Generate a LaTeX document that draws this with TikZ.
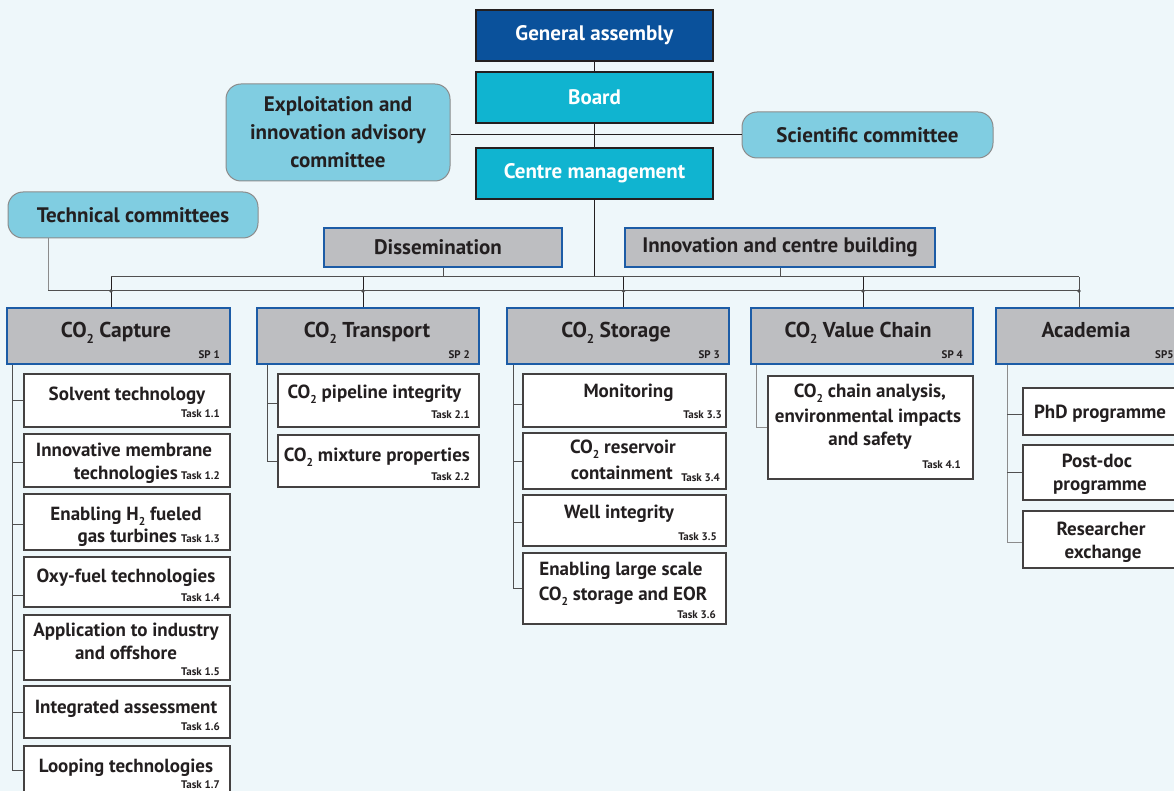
\documentclass[tikz,border=0pt]{standalone}
\usepackage{fontspec}
\setmainfont{PT Sans}
\usetikzlibrary{calc}
\definecolor{bg}{HTML}{EEF7FA}
\definecolor{gablue}{HTML}{0A519B}
\definecolor{cyanbox}{HTML}{10B4D0}
\definecolor{commfill}{HTML}{80CDE1}
\definecolor{commline}{HTML}{8C8C8C}
\definecolor{spgray}{HTML}{BDBEC1}
\definecolor{spblue}{HTML}{1C5CA6}
\definecolor{ink}{HTML}{231F20}
\definecolor{lineg}{HTML}{505050}
\newcommand{\mysub}[1]{\raisebox{-0.6ex}{\scalebox{0.6}{#1}}}
\begin{document}
\begin{tikzpicture}[x=1pt,y=-1pt,
  every node/.style={text=ink},
  topbox/.style={draw=ink, line width=1.4pt, minimum width=237pt, minimum height=51pt, inner sep=0pt, text=white, font=\bfseries\fontsize{21}{25}\selectfont},
  comm/.style={draw=commline, line width=1pt, fill=commfill, rounded corners=15pt, inner sep=0pt, align=center, font=\bfseries\fontsize{21}{28}\selectfont},
  hdr/.style={draw=spblue, line width=2.2pt, fill=spgray, inner sep=0pt, font=\bfseries\fontsize{21}{25}\selectfont},
  task/.style={draw=ink!85, line width=1.2pt, fill=white, inner sep=0pt},
  ttl/.style={anchor=base, inner sep=0pt, font=\bfseries\fontsize{19}{23}\selectfont},
  tlab/.style={anchor=base east, inner sep=0pt, font=\bfseries\fontsize{11}{12}\selectfont},
  sptitle/.style={anchor=base, inner sep=0pt, font=\bfseries\fontsize{21.5}{25}\selectfont},
  conn/.style={draw=lineg, line width=1pt},
  mainline/.style={draw=ink, line width=1pt},
  dot/.style={fill=lineg}
]
\useasboundingbox (0,0) rectangle (1174,791);
\clip (0,0) rectangle (1174,791);
\fill[bg] (0,0) rectangle (1174,791);

% ---------- top ----------
\node[topbox, fill=gablue] (ga) at (594.5,35.5) {General assembly};
\node[topbox, fill=cyanbox] (board) at (594.5,97.5) {Board};
\node[topbox, fill=cyanbox] (cm) at (594.5,173.5) {Centre management};
\node[comm, minimum width=224pt, minimum height=97pt] (expl) at (338,132.5) {Exploitation and\\innovation advisory\\committee};
\node[comm, minimum width=251pt, minimum height=46pt] (sci) at (867.5,135) {Scientific committee};
\node[comm, minimum width=250pt, minimum height=46pt] (tech) at (133,215) {Technical committees};
\node[hdr, minimum width=238pt, minimum height=39pt] (diss) at (443,247.5) {\hspace*{-10pt}Dissemination};
\node[hdr, minimum width=310pt, minimum height=39pt] (innov) at (780,247.5) {Innovation and centre building};

% ---------- SP headers ----------
\node[hdr, minimum width=223pt, minimum height=56pt] (sp1) at (118.5,336) {};
\node[hdr, minimum width=222pt, minimum height=56pt] (sp2) at (368,336) {};
\node[hdr, minimum width=222pt, minimum height=56pt] (sp3) at (618,336) {};
\node[hdr, minimum width=222pt, minimum height=56pt] (sp4) at (862,336) {};
\node[hdr, minimum width=182pt, minimum height=56pt] (sp5) at (1087,336) {};
\node[sptitle] at (116,337) {CO\mysub{2} Capture};
\node[sptitle] at (367,337) {CO\mysub{2} Transport};
\node[sptitle] at (616,337) {CO\mysub{2} Storage};
\node[sptitle] at (858,337) {CO\mysub{2} Value Chain};
\node[sptitle] at (1086,337) {Academia};
\node[tlab] at (220,358) {SP 1};
\node[tlab] at (470,358) {SP 2};
\node[tlab] at (720,358) {SP 3};
\node[tlab] at (963,358) {SP 4};
\node[tlab, anchor=base west] at (1155,358) {SP5};

% ---------- SP1 tasks ----------
\node[task, minimum width=206pt, minimum height=53pt] (t11) at (127,400.5) {};
\node[task, minimum width=206pt, minimum height=53pt] (t12) at (127,460.5) {};
\node[task, minimum width=206pt, minimum height=56pt] (t13) at (127,522) {};
\node[task, minimum width=206pt, minimum height=50pt] (t14) at (127,582) {};
\node[task, minimum width=206pt, minimum height=65pt] (t15) at (127,647.5) {};
\node[task, minimum width=206pt, minimum height=52pt] (t16) at (127,712) {};
\node[task, minimum width=206pt, minimum height=56pt] (t17) at (127,774) {};
\node[ttl] at (127,400) {Solvent technology};
\node[tlab] at (220,417) {Task 1.1};
\node[ttl] at (124,456) {Innovative membrane};
\node[tlab] (l12) at (220,479) {Task 1.2};
\node[ttl, anchor=base east] at ($(l12.base west)+(-3,0)$) {technologies};
\node[ttl] at (126,520) {Enabling H\mysub{2} fueled};
\node[tlab] (l13) at (220,542) {Task 1.3};
\node[ttl, anchor=base east] at ($(l13.base west)+(-4,0)$) {gas turbines};
\node[ttl] at (126,582) {Oxy-fuel technologies};
\node[tlab] at (220,601) {Task 1.4};
\node[ttl] at (126,636) {Application to industry};
\node[ttl] at (126,659) {and offshore};
\node[tlab] at (220,675) {Task 1.5};
\node[ttl] at (126,713) {Integrated assessment};
\node[tlab] at (220,730) {Task 1.6};
\node[ttl] at (126,772) {Looping technologies};
\node[tlab] at (220,788) {Task 1.7};

% ---------- SP2 tasks ----------
\node[task, minimum width=201pt, minimum height=53pt] (t21) at (378.5,400.5) {};
\node[task, minimum width=201pt, minimum height=52pt] (t22) at (378.5,461) {};
\node[ttl] at (374.5,398) {CO\mysub{2} pipeline integrity};
\node[tlab] at (470,418) {Task 2.1};
\node[ttl] at (377,461) {CO\mysub{2} mixture properties};
\node[tlab] at (470,480) {Task 2.2};

% ---------- SP3 tasks ----------
\node[task, minimum width=203pt, minimum height=53pt] (t33) at (624.5,400.5) {};
\node[task, minimum width=203pt, minimum height=56pt] (t34) at (624.5,461) {};
\node[task, minimum width=203pt, minimum height=51pt] (t35) at (624.5,520.5) {};
\node[task, minimum width=203pt, minimum height=71pt] (t36) at (624.5,588.5) {};
\node[ttl] at (628.5,397) {Monitoring};
\node[tlab] at (722,418) {Task 3.3};
\node[ttl] at (623,453) {CO\mysub{2} reservoir};
\node[tlab] (l34) at (720,481) {Task 3.4};
\node[ttl, anchor=base east] at ($(l34.base west)+(-8,-2)$) {containment};
\node[ttl] at (619,518) {Well integrity};
\node[tlab] at (717,540) {Task 3.5};
\node[ttl] at (621,575) {Enabling large scale};
\node[ttl] at (623,600) {CO\mysub{2} storage and EOR};
\node[tlab] at (716,618) {Task 3.6};

% ---------- SP4 task ----------
\node[task, minimum width=205pt, minimum height=103pt] (t41) at (870.5,427.5) {};
\node[ttl] at (870,397) {CO\mysub{2} chain analysis,};
\node[ttl] at (868,422) {environmental impacts};
\node[ttl] at (870,445) {and safety};
\node[tlab] at (961,468) {Task 4.1};

% ---------- SP5 tasks ----------
\node[task, minimum width=155pt, minimum height=47pt] (t51) at (1100.5,411.5) {};
\node[task, minimum width=155pt, minimum height=55pt] (t52) at (1100.5,472.5) {};
\node[task, minimum width=155pt, minimum height=57pt] (t53) at (1100.5,539.5) {};
\node[ttl] at (1100,418) {PhD programme};
\node[ttl] at (1097,467) {Post-doc};
\node[ttl] at (1100,490) {programme};
\node[ttl] at (1101,535) {Researcher};
\node[ttl] at (1103,558) {exchange};

% ---------- connectors: top ----------
\draw[mainline] (ga.south) -- (board.north);
\draw[mainline] (board.south) -- (cm.north);
\draw[mainline] (expl.east |- sci.west) -- (sci.west);
\coordinate (b1) at (111,277);
\coordinate (b2) at (363,277);
\coordinate (b3) at (623.5,277);
\coordinate (b4) at (863,277);
\coordinate (b5) at (1079,277);
\coordinate (tc) at (48,291);
\draw[mainline] (cm.south) -- (cm.south |- b1);
\draw[conn] (diss.south) -- (diss.south |- b1);
\draw[conn] (innov.south) -- (innov.south |- b1);
\draw[conn] (b1) -- (b5);
\draw[conn, draw=commline] (tech.south -| tc) -- (tc);
\draw[conn] (tc) -- (tc -| b5);
\draw[mainline] (b1) -- (b1 |- sp1.north);
\draw[mainline] (b2) -- (b2 |- sp2.north);
\draw[mainline] (b3) -- (b3 |- sp3.north);
\draw[mainline] (b4) -- (b4 |- sp4.north);
\draw[conn] (b5) -- (b5 |- sp5.north);
\foreach \b in {b1,b2,b3,b4,b5} \fill[dot] (\b |- tc) circle (1.8pt);

% ---------- connectors: tasks ----------
\coordinate (v1) at (12,365);
\draw[conn] (v1) |- ($(t17.west)+(0,-4)$);
\draw[conn] (v1 |- t11.west) -- (t11.west);
\draw[conn] ($(v1 |- t12.west)+(0,1.5)$) -- ($(t12.west)+(0,1.5)$);
\draw[conn] ($(v1 |- t13.west)+(0,2)$) -- ($(t13.west)+(0,2)$);
\draw[conn] ($(v1 |- t14.west)+(0,13)$) -- ($(t14.west)+(0,13)$);
\draw[conn] ($(v1 |- t15.west)+(0,2.5)$) -- ($(t15.west)+(0,2.5)$);
\draw[conn] (v1 |- t16.west) -- (t16.west);

\coordinate (v2) at (267,365);
\draw[conn] (v2) |- (t22.west);
\draw[conn] ($(v2 |- t21.west)+(0,2.5)$) -- ($(t21.west)+(0,2.5)$);

\coordinate (v3) at (513,365);
\draw[conn] (v3) |- (t36.west);
\draw[conn] ($(v3 |- t33.west)+(0,3.5)$) -- ($(t33.west)+(0,3.5)$);
\draw[conn] (v3 |- t34.west) -- (t34.west);
\draw[conn] ($(v3 |- t35.west)+(0,1.5)$) -- ($(t35.west)+(0,1.5)$);

\coordinate (v4) at (756,365);
\draw[conn, draw=commline] (v4) |- (t41.west);

\coordinate (v5) at (1007,365);
\draw[conn, draw=commline] (v5) |- ($(t53.west)+(0,2.5)$);
\draw[conn] ($(v5 |- t51.west)+(0,2.5)$) -- ($(t51.west)+(0,2.5)$);
\draw[conn] (v5 |- t52.west) -- (t52.west);
\end{tikzpicture}
\end{document}
